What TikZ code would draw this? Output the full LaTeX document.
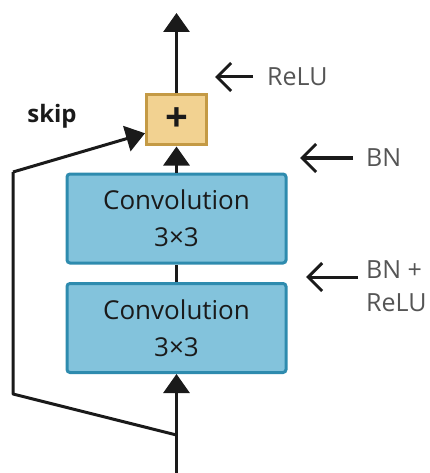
\documentclass[tikz,border=0pt]{standalone}
\usepackage{fontspec}
\setmainfont{Open Sans}
\usetikzlibrary{arrows.meta,calc}
\definecolor{convfill}{HTML}{83C3DC}
\definecolor{convline}{HTML}{2E8BAE}
\definecolor{addfill}{HTML}{F2D291}
\definecolor{addline}{HTML}{C49A45}
\definecolor{ink}{HTML}{1A1A1A}
\definecolor{note}{HTML}{555555}
\tikzset{
  conv/.style={draw=convline, fill=convfill, line width=3pt, rounded corners=3pt,
    minimum width=219pt, minimum height=89pt, inner sep=0pt, align=center,
    text=ink, font=\fontsize{26}{37}\selectfont},
  adder/.style={draw=addline, fill=addfill, line width=3pt,
    minimum width=60pt, minimum height=50pt, inner sep=0pt,
    font=\fontsize{40}{40}\selectfont\bfseries, text=ink},
  flow/.style={draw=ink, line width=3pt, -{Triangle[width=26pt,length=19pt]}},
  wire/.style={draw=ink, line width=3pt, line join=round},
  hint/.style={draw=ink, line width=3pt, -{Straight Barb[width=28pt,length=14pt,line width=3pt]}},
  hinttext/.style={anchor=west, text=note, font=\fontsize{25}{33}\selectfont, inner sep=0pt, align=left},
}
\begin{document}
\begin{tikzpicture}[x=1pt,y=-1pt]
  \useasboundingbox (0,0) rectangle (430,473);

  % blocks
  \node[conv] (conv2) at (176.5,328) {Convolution\\3×3};
  \node[conv] (conv1) at (176.5,218.5) {Convolution\\3×3};
  \node[adder] (add) at (176.5,120) {+};

  % main path
  \coordinate (in) at (176.5,473);
  \coordinate (split) at (176.5,435);
  \coordinate (out) at (176.5,13);
  \draw[flow] (in) -- (conv2.south);
  \draw[wire] (conv2.north) -- (conv1.south);
  \draw[flow] (conv1.north) -- (add.south);
  \draw[flow] (add.north) -- (out);

  % shortcut
  \coordinate (skipA) at (13,394);
  \coordinate (skipB) at (13,172);
  \draw[wire] (split) -- (skipA) -- (skipB);
  \draw[flow, line join=round] (skipB) -- ($(add.south west)!0.25!(add.north west)$);
  \node[font=\fontsize{24}{24}\selectfont\bfseries, text=ink] (skip) at (52,116) {skip};

  % annotations
  \node[hinttext] (relu) at (267,77) {ReLU};
  \coordinate (reluTip) at (215,77);
  \draw[hint] ([xshift=-14pt]relu.west) -- (reluTip);

  \node[hinttext] (bn) at (366,158) {BN};
  \coordinate (bnTip) at (300,158);
  \draw[hint] ([xshift=-13pt]bn.west) -- (bnTip);

  \node[hinttext, anchor=north west] (bnrelu) at (366,260) {BN +\\ReLU};
  \coordinate (bnreluTip) at (306,277);
  \coordinate (bnreluTail) at (358,277);
  \draw[hint] (bnreluTail) -- (bnreluTip);
\end{tikzpicture}
\end{document}
